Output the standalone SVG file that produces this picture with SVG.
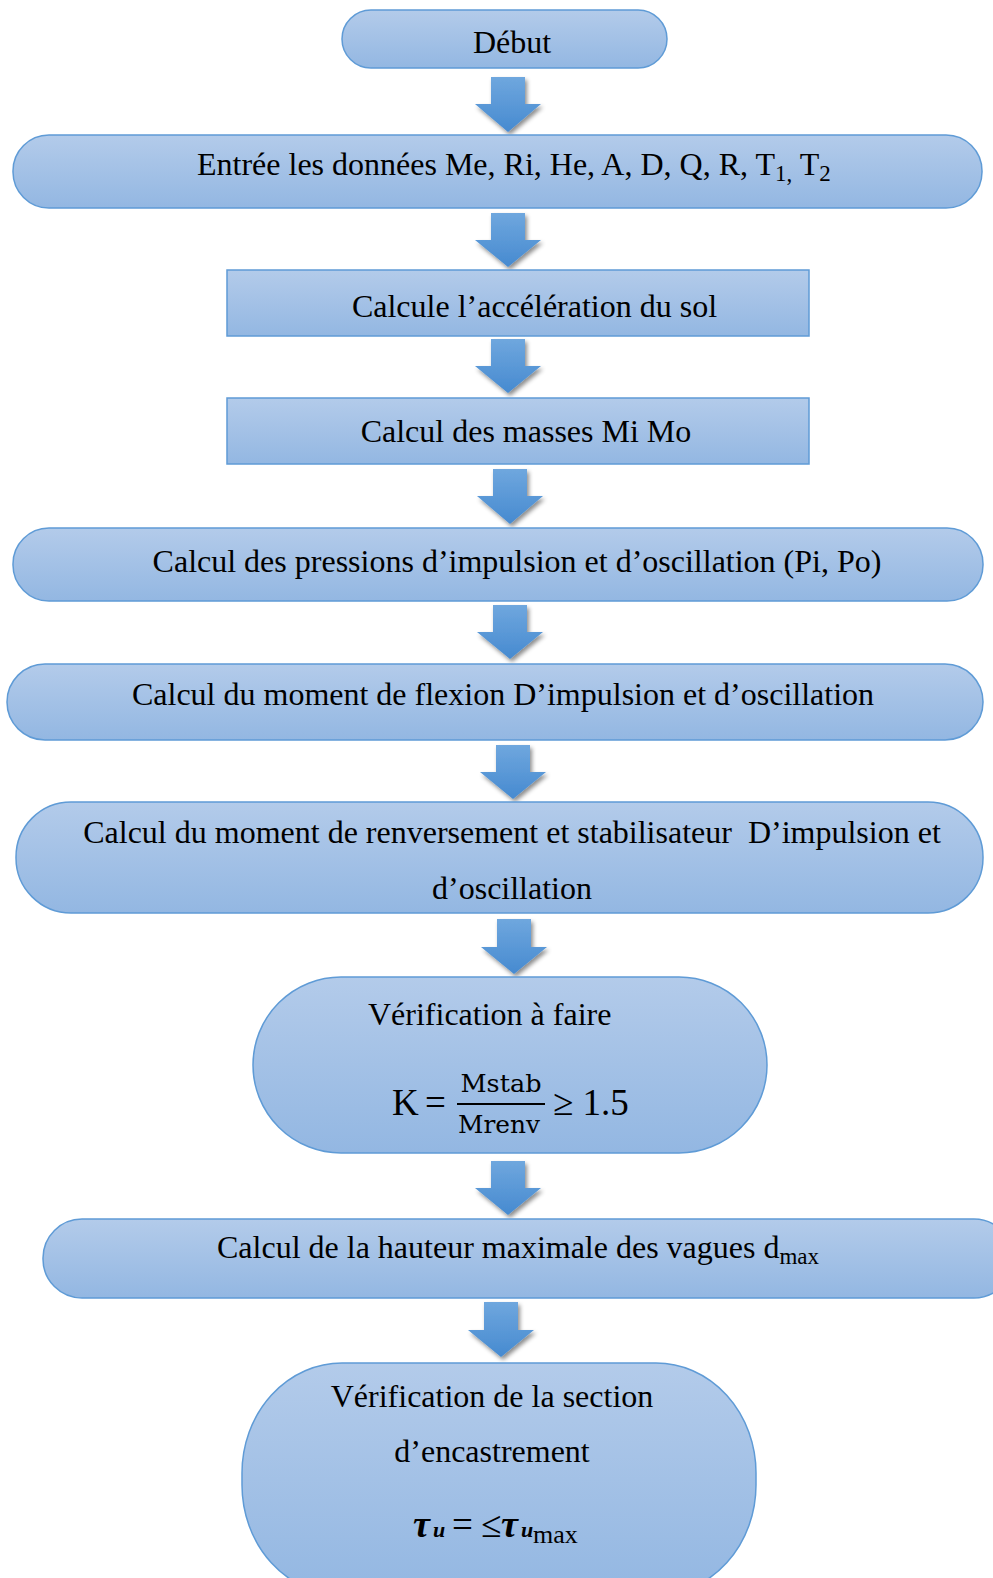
<svg xmlns="http://www.w3.org/2000/svg" width="993" height="1578" viewBox="0 0 993 1578">
<defs>
<linearGradient id="nodeFill" x1="0" y1="0" x2="0" y2="1">
<stop offset="0" stop-color="#b3cbea"/>
<stop offset="1" stop-color="#93b7e2"/>
</linearGradient>
<linearGradient id="arrowFill" x1="0" y1="0" x2="0" y2="1">
<stop offset="0" stop-color="#6fa7de"/>
<stop offset="1" stop-color="#468ad0"/>
</linearGradient>
<filter id="shadow" x="-30%" y="-30%" width="160%" height="170%">
<feDropShadow dx="2" dy="3" stdDeviation="2.2" flood-color="#000" flood-opacity="0.45"/>
</filter>
</defs>
<style>
.node{fill:url(#nodeFill);stroke:#5f9bd6;stroke-width:1.5}
.t{font-family:"Liberation Serif","Times New Roman",serif;font-size:32px;fill:#000}
.m{font-family:"Liberation Serif","Times New Roman",serif;font-size:37px;fill:#000}
.frac{font-family:"DejaVu Serif",serif;font-size:24px;fill:#000}
.tau{font-family:"Liberation Serif","Times New Roman",serif;font-weight:bold;font-style:italic;font-size:38px;fill:#000}
.u{font-family:"Liberation Serif","Times New Roman",serif;font-weight:bold;font-style:italic;font-size:22px;fill:#000}
.arrow{fill:url(#arrowFill);filter:url(#shadow)}
</style>
<rect width="993" height="1578" fill="#fff"/>

<g id="connectors">
<path class="arrow" d="M491,77 H525 V104 H541 L508,132 L475,104 H491 Z"/>
<path class="arrow" d="M491,213 H525 V240 H541 L508,267 L475,240 H491 Z"/>
<path class="arrow" d="M491,339 H525 V366 H541 L508,393 L475,366 H491 Z"/>
<path class="arrow" d="M493,469 H527 V496 H543 L510,524 L477,496 H493 Z"/>
<path class="arrow" d="M493,605 H527 V632 H543 L510,659 L477,632 H493 Z"/>
<path class="arrow" d="M496,745 H530 V772 H546 L513,799 L480,772 H496 Z"/>
<path class="arrow" d="M497,919 H531 V947 H547 L514,974 L481,947 H497 Z"/>
<path class="arrow" d="M491,1161 H525 V1188 H541 L508,1215 L475,1188 H491 Z"/>
<path class="arrow" d="M484,1302 H518 V1330 H534 L501,1357 L468,1330 H484 Z"/>
</g>

<g id="debut">
<rect class="node" x="342" y="10" width="325" height="58" rx="29"/>
<text class="t" x="512" y="53" text-anchor="middle">Début</text>
</g>

<g id="entree">
<rect class="node" x="13" y="135" width="969" height="73" rx="36"/>
<text class="t" x="197" y="175">Entrée les données Me, Ri, He, A, D, Q, R, T<tspan font-size="23" dy="6">1,</tspan><tspan dy="-6"> T</tspan><tspan font-size="23" dy="6">2</tspan></text>
</g>

<g id="acceleration">
<rect class="node" x="227" y="270" width="582" height="66"/>
<text class="t" x="534.5" y="317" text-anchor="middle">Calcule l’accélération du sol</text>
</g>

<g id="masses">
<rect class="node" x="227" y="398" width="582" height="66"/>
<text class="t" x="526" y="442" text-anchor="middle">Calcul des masses Mi Mo</text>
</g>

<g id="pressions">
<rect class="node" x="13" y="528" width="970" height="73" rx="36"/>
<text class="t" x="517" y="572" text-anchor="middle">Calcul des pressions d’impulsion et d’oscillation (Pi, Po)</text>
</g>

<g id="flexion">
<rect class="node" x="7" y="664" width="976" height="76" rx="38"/>
<text class="t" x="503" y="705" text-anchor="middle">Calcul du moment de flexion D’impulsion et d’oscillation</text>
</g>

<g id="renversement">
<rect class="node" x="16" y="802" width="967" height="111" rx="55"/>
<text class="t" x="512" y="843" text-anchor="middle" xml:space="preserve">Calcul du moment de renversement et stabilisateur  D’impulsion et</text>
<text class="t" x="512" y="899" text-anchor="middle">d’oscillation</text>
</g>

<g id="verification-k">
<rect class="node" x="253" y="977" width="514" height="176" rx="88"/>
<text class="t" x="368" y="1025">Vérification à faire</text>
<text class="m" x="392" y="1115">K</text>
<text class="m" x="425" y="1115">=</text>
<text class="frac" x="501" y="1092" text-anchor="middle" textLength="81" lengthAdjust="spacingAndGlyphs">Mstab</text>
<line x1="457" y1="1104" x2="545" y2="1104" stroke="#000" stroke-width="2"/>
<text class="frac" x="499" y="1133" text-anchor="middle" textLength="82" lengthAdjust="spacingAndGlyphs">Mrenv</text>
<text class="m" x="553" y="1115">≥ 1.5</text>
</g>

<g id="hauteur">
<rect class="node" x="43" y="1219" width="970" height="79" rx="39"/>
<text class="t" x="217" y="1258">Calcul de la hauteur maximale des vagues d<tspan font-size="23" dy="6">max</tspan></text>
</g>

<g id="verification-section">
<rect class="node" x="242" y="1363" width="514" height="232" rx="100" ry="110"/>
<text class="t" x="492" y="1407" text-anchor="middle">Vérification de la section</text>
<text class="t" x="492" y="1462" text-anchor="middle">d’encastrement</text>
<text class="tau" x="413" y="1537">τ</text>
<text class="u" x="433" y="1537">u</text>
<text class="m" x="452" y="1537">=</text>
<text class="m" x="481" y="1537">≤</text>
<text class="tau" x="501" y="1537">τ</text>
<text class="u" x="521" y="1537">u</text>
<text x="533" y="1543" font-family="Liberation Serif, serif" font-size="26">max</text>
</g>
</svg>
